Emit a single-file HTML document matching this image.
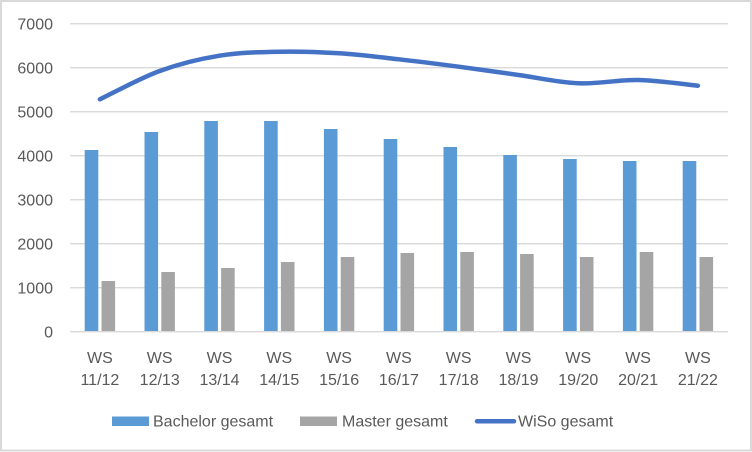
<!DOCTYPE html>
<html>
<head>
<meta charset="utf-8">
<style>
  html, body { margin: 0; padding: 0; background: #fff; }
  svg { display: block; }
  text { font-family: "Liberation Sans", sans-serif; font-size: 16px; fill: #595959; }
</style>
</head>
<body>
<svg width="752" height="452" viewBox="0 0 752 452" xmlns="http://www.w3.org/2000/svg">
  <rect x="0" y="0" width="752" height="452" fill="#ffffff"/>
  <rect x="1" y="1" width="750" height="449.5" fill="none" stroke="#D9D9D9" stroke-width="2"/>

  <!-- gridlines -->
  <g stroke="#D9D9D9" stroke-width="1.3">
    <line x1="70" x2="728" y1="23.7" y2="23.7"/>
    <line x1="70" x2="728" y1="67.7" y2="67.7"/>
    <line x1="70" x2="728" y1="111.7" y2="111.7"/>
    <line x1="70" x2="728" y1="155.7" y2="155.7"/>
    <line x1="70" x2="728" y1="199.7" y2="199.7"/>
    <line x1="70" x2="728" y1="243.7" y2="243.7"/>
    <line x1="70" x2="728" y1="287.7" y2="287.7"/>
    <line x1="70" x2="728" y1="331.7" y2="331.7"/>
  </g>

  <!-- y tick labels -->
  <g text-anchor="end">
    <text x="53" y="29.7">7000</text>
    <text x="53" y="73.7">6000</text>
    <text x="53" y="117.7">5000</text>
    <text x="53" y="161.7">4000</text>
    <text x="53" y="205.7">3000</text>
    <text x="53" y="249.7">2000</text>
    <text x="53" y="293.7">1000</text>
    <text x="53" y="337.7">0</text>
  </g>

  <!-- Bachelor bars -->
  <g fill="#5B9BD5">
    <rect x="84.7" y="150" width="13.6" height="181"/>
    <rect x="144.5" y="132" width="13.6" height="199"/>
    <rect x="204.3" y="121" width="13.6" height="210"/>
    <rect x="264.1" y="121" width="13.6" height="210"/>
    <rect x="323.9" y="129" width="13.6" height="202"/>
    <rect x="383.7" y="139" width="13.6" height="192"/>
    <rect x="443.5" y="147" width="13.6" height="184"/>
    <rect x="503.3" y="155" width="13.6" height="176"/>
    <rect x="563.1" y="159" width="13.6" height="172"/>
    <rect x="622.9" y="161" width="13.6" height="170"/>
    <rect x="682.7" y="161" width="13.6" height="170"/>
  </g>

  <!-- Master bars -->
  <g fill="#A5A5A5">
    <rect x="101.5" y="281" width="13.6" height="50"/>
    <rect x="161.3" y="272" width="13.6" height="59"/>
    <rect x="221.1" y="268" width="13.6" height="63"/>
    <rect x="280.9" y="262" width="13.6" height="69"/>
    <rect x="340.7" y="257" width="13.6" height="74"/>
    <rect x="400.5" y="253" width="13.6" height="78"/>
    <rect x="460.3" y="252" width="13.6" height="79"/>
    <rect x="520.1" y="254" width="13.6" height="77"/>
    <rect x="579.9" y="257" width="13.6" height="74"/>
    <rect x="639.7" y="252" width="13.6" height="79"/>
    <rect x="699.5" y="257" width="13.6" height="74"/>
  </g>

  <!-- WiSo line (smoothed) -->
  <path fill="none" stroke="#4472C4" stroke-width="4.5" stroke-linecap="round" stroke-linejoin="round"
    d="M99.9,99.3
       C109.87,94.58 139.77,78.27 159.7,71
       C179.63,63.73 199.57,58.92 219.5,55.7
       C239.43,52.48 259.37,52.1 279.3,51.7
       C299.23,51.3 319.17,52.03 339.1,53.3
       C359.03,54.57 378.97,57.07 398.9,59.3
       C418.83,61.53 438.77,64.08 458.7,66.7
       C478.63,69.32 498.57,72.23 518.5,75
       C538.43,77.77 558.37,82.47 578.3,83.3
       C598.23,84.13 618.17,79.6 638.1,80
       C658.03,80.4 687.93,84.75 697.9,85.7"/>

  <!-- category labels -->
  <g text-anchor="middle">
    <text x="99.9" y="363">WS</text><text x="99.9" y="385">11/12</text>
    <text x="159.7" y="363">WS</text><text x="159.7" y="385">12/13</text>
    <text x="219.5" y="363">WS</text><text x="219.5" y="385">13/14</text>
    <text x="279.3" y="363">WS</text><text x="279.3" y="385">14/15</text>
    <text x="339.1" y="363">WS</text><text x="339.1" y="385">15/16</text>
    <text x="398.9" y="363">WS</text><text x="398.9" y="385">16/17</text>
    <text x="458.7" y="363">WS</text><text x="458.7" y="385">17/18</text>
    <text x="518.5" y="363">WS</text><text x="518.5" y="385">18/19</text>
    <text x="578.3" y="363">WS</text><text x="578.3" y="385">19/20</text>
    <text x="638.1" y="363">WS</text><text x="638.1" y="385">20/21</text>
    <text x="697.9" y="363">WS</text><text x="697.9" y="385">21/22</text>
  </g>

  <!-- legend -->
  <rect x="112" y="416.5" width="37" height="9.5" fill="#5B9BD5"/>
  <text x="153" y="426.5">Bachelor gesamt</text>
  <rect x="300" y="416.5" width="37" height="9.5" fill="#A5A5A5"/>
  <text x="342" y="426.5">Master gesamt</text>
  <line x1="477" y1="421.3" x2="514" y2="421.3" stroke="#4472C4" stroke-width="4.5" stroke-linecap="round"/>
  <text x="518" y="426.5">WiSo gesamt</text>
</svg>
</body>
</html>
